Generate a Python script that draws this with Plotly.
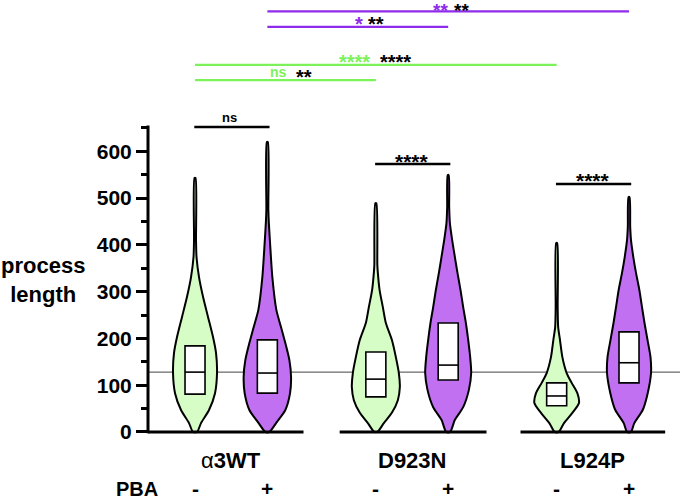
import plotly.graph_objects as go

# ---------------- data ----------------
groups = ["α3WT", "D923N", "L924P"]
treatments = ["-", "+"]
# order: α3WT-, α3WT+, D923N-, D923N+, L924P-, L924P+
q1 = [81, 83, 75, 111, 56, 105]
median = [128, 126, 113, 143, 77, 148]
q3 = [184, 197, 171, 233, 105, 214]

# violin outlines: value levels and relative density (half-width)
lev_a_m = [0, 19, 47, 83, 126, 169, 203, 246, 289, 331, 374, 410, 543]
den_a_m = [2, 6, 14, 20, 22, 21, 18, 13, 8, 4, 1.5, 1, 0.5]
lev_a_p = [0, 19, 47, 83, 118, 154, 190, 224, 261, 331, 404, 447, 475, 620]
den_a_p = [2, 8.7, 18, 22.7, 23.7, 22, 18, 13.7, 9, 5, 2.7, 1.5, 1, 0.5]
lev_d_m = [0, 19, 41, 68, 96, 126, 160, 197, 233, 267, 304, 340, 357, 489]
den_d_m = [1.5, 8, 16, 22, 24, 23, 20, 16, 10, 7, 3.7, 2, 1.5, 0.5]
lev_d_p = [0, 26, 53, 90, 126, 160, 197, 233, 267, 304, 340, 374, 410, 447, 481, 549]
den_d_p = [2, 6.7, 15, 20.7, 23, 22, 20, 17.7, 15, 12.3, 9.3, 6.7, 4, 1.7, 1, 0.5]
lev_l_m = [0, 19, 41, 62, 83, 105, 126, 160, 197, 224, 267, 404]
den_l_m = [2, 7.3, 15.7, 22.3, 20.7, 15, 10, 5.7, 3.3, 1.5, 1, 0.5]
lev_l_p = [0, 19, 47, 83, 126, 160, 197, 233, 267, 304, 340, 374, 410, 438, 502]
den_l_p = [2, 5.3, 13.7, 18.7, 22, 21.5, 18.5, 15.5, 13, 10.3, 7, 4.3, 2, 1.2, 0.5]

levels = [lev_a_m, lev_a_p, lev_d_m, lev_d_p, lev_l_m, lev_l_p]
densities = [den_a_m, den_a_p, den_d_m, den_d_p, den_l_m, den_l_p]

y_ticks = [0, 100, 200, 300, 400, 500, 600]
y_minor = [50, 150, 250, 350, 450, 550, 650]
ref_value = 128

# ---------------- styling / layout ----------------
FONT = "Liberation Sans"
GREEN = "#D6FDC6"
PURPLE = "#C270F2"
SIG_GREEN = "#7CF25A"
SIG_PURPLE = "#8F2BEA"
colors = [GREEN, PURPLE] * 3

X_MIN, X_MAX = -0.65, 6.705
Y_MIN, Y_MAX = -15, 923.5
DEN_SCALE = 1 / 72.33          # density unit -> x units
BOX_HALF = 10 / 72.33

positions = [g * 2.5 + t for g in range(3) for t in range(2)]


def py(v):
    return (v - Y_MIN) / (Y_MAX - Y_MIN)


def pxr(x):
    return (x - X_MIN) / (X_MAX - X_MIN)


def label(x, y, text, size, color="black", weight="bold", xanchor="center"):
    return dict(x=pxr(x), y=py(y), xref="paper", yref="paper", text=text,
                showarrow=False, xanchor=xanchor, yanchor="middle", align="center",
                font=dict(family=FONT, size=size, color=color, weight=weight))


fig = go.Figure()

for i, c in enumerate(positions):
    lv, dn = levels[i], densities[i]
    xs = [c + d * DEN_SCALE for d in dn] + [c - d * DEN_SCALE for d in reversed(dn)]
    ys = list(lv) + list(reversed(lv))
    xs.append(xs[0])
    ys.append(ys[0])
    fig.add_trace(go.Scatter(
        x=xs, y=ys, mode="lines", fill="toself", fillcolor=colors[i],
        line=dict(color="black", width=2, shape="spline", smoothing=0.7),
        hoverinfo="skip", showlegend=False))

shapes = []
# reference line
shapes.append(dict(type="line", xref="paper", yref="y", x0=0, x1=1,
                   y0=ref_value, y1=ref_value, layer="below",
                   line=dict(color="#444444", width=1)))
# boxes
for i, c in enumerate(positions):
    shapes.append(dict(type="rect", xref="x", yref="y",
                       x0=c - BOX_HALF, x1=c + BOX_HALF, y0=q1[i], y1=q3[i],
                       fillcolor="white", line=dict(color="black", width=1.6)))
    shapes.append(dict(type="line", xref="x", yref="y",
                       x0=c - BOX_HALF, x1=c + BOX_HALF, y0=median[i], y1=median[i],
                       line=dict(color="black", width=1.6)))
# y axis line
shapes.append(dict(type="line", xref="paper", yref="paper", x0=0, x1=0,
                   y0=py(0) - 0.003, y1=py(655), line=dict(color="black", width=3)))
# x axis segments
for x0, x1 in [(X_MIN, 1.5), (2.0, 4.03), (4.5, 6.5)]:
    shapes.append(dict(type="line", xref="x", yref="y", x0=x0, x1=x1, y0=0, y1=0,
                       line=dict(color="black", width=3)))

annotations = []
# within-group comparison bars
pair_bars = [(0, 652, "ns", 13, 672), (2.5, 573, "****", 21, 578), (5, 530, "****", 21, 537)]
for x0, yv, txt, fs, ty in pair_bars:
    shapes.append(dict(type="line", xref="x", yref="y", x0=x0 - 0.01, x1=x0 + 1.03,
                       y0=yv, y1=yv, line=dict(color="black", width=2.6)))
    annotations.append(label(x0 + 0.5 - (0.03 if txt == "ns" else 0), ty, txt, fs))

# between-group comparison bars
top_bars = [(1, 6, 899, SIG_PURPLE), (1, 3.5, 866, SIG_PURPLE),
            (0, 5, 785, SIG_GREEN), (0, 2.5, 752, SIG_GREEN)]
for x0, x1, yv, col in top_bars:
    shapes.append(dict(type="line", xref="x", yref="y", x0=x0, x1=x1, y0=yv, y1=yv,
                       line=dict(color=col, width=2.2)))

top_texts = [
    (3.394, 901, "**", SIG_PURPLE, 19), (3.678, 901, "**", "black", 19),
    (2.274, 873, "*", SIG_PURPLE, 20), (2.509, 873, "**", "black", 20),
    (2.198, 792, "****", SIG_GREEN, 20), (2.772, 792, "****", "black", 20),
    (1.161, 770, "ns", SIG_GREEN, 14), (1.500, 758, "**", "black", 20),
]
for x, y, t, col, fs in top_texts:
    annotations.append(label(x, y, t, fs, color=col))

# group labels
group_x = [0.5, 3.0, 5.5]
group_text = ["α<b>3WT</b>", "D923N", "L924P"]
for gx, gt, raw in zip(group_x, group_text, groups):
    annotations.append(label(gx, -60, gt, 22,
                             weight="normal" if raw.startswith("α") else "bold"))
# PBA row
annotations.append(label(-0.484, -121, "PBA", 20, xanchor="right"))
for i, c in enumerate(positions):
    annotations.append(label(c, -121, treatments[i % 2], 21))
# y title
annotations.append(label(-2.1, 325, "process<br>length", 22))

fig.update_layout(
    template="none",
    width=680, height=502,
    margin=dict(l=148, r=0, t=0, b=63, autoexpand=False),
    plot_bgcolor="white", paper_bgcolor="white",
    shapes=shapes, annotations=annotations, showlegend=False,
    xaxis=dict(range=[X_MIN, X_MAX], visible=False, automargin=False),
    yaxis=dict(range=[Y_MIN, Y_MAX], showgrid=False, zeroline=False, showline=False,
               automargin=False,
               tickmode="array", tickvals=y_ticks, ticks="outside", ticklen=11,
               tickwidth=2.6, tickcolor="black",
               tickfont=dict(family=FONT, size=21, color="black", weight="bold"),
               minor=dict(tickmode="array", tickvals=y_minor, ticks="outside",
                          ticklen=6, tickwidth=2.6, tickcolor="black", showgrid=False)),
)

fig.write_html("out.html", config={"displayModeBar": False},
               post_script="document.body.style.margin='0px';")
